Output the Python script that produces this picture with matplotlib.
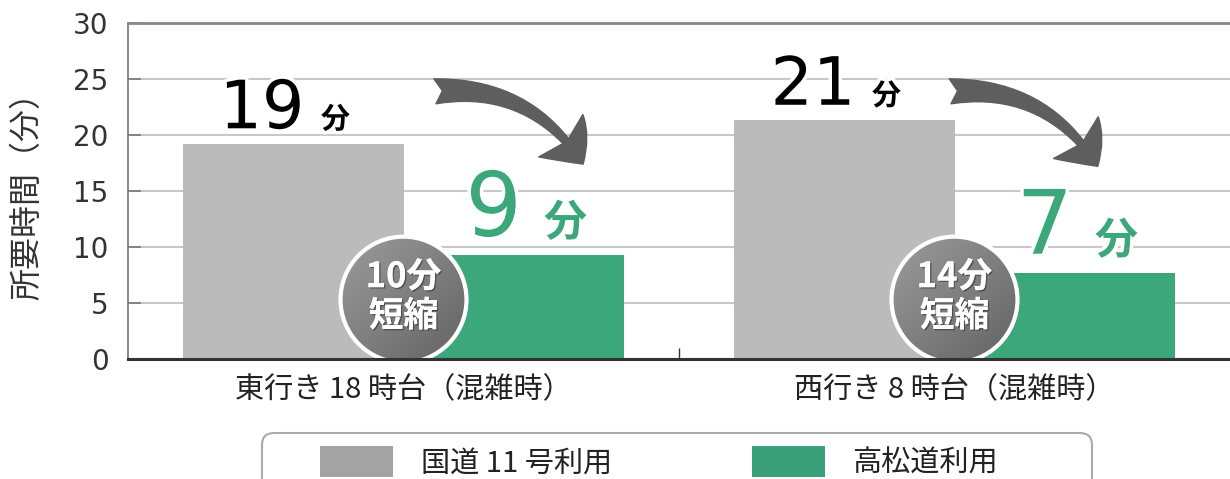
import numpy as np
import matplotlib
matplotlib.use("Agg")
import matplotlib.pyplot as plt
import matplotlib.patheffects as pe
import matplotlib.transforms as mtransforms
from matplotlib.colors import LinearSegmentedColormap
from matplotlib.patches import Ellipse, FancyArrowPatch, FancyBboxPatch

plt.rcParams['font.family'] = ['Noto Sans CJK JP', 'DejaVu Sans']

# data
routes = ["東行き 18 時台（混雑時）", "西行き 8 時台（混雑時）"]
series = ["国道 11 号利用", "高松道利用"]
kokudo = [19.2, 21.3]
takamatsu = [9.3, 7.7]
kokudo_txt = ["19", "21"]
takamatsu_txt = ["9", "7"]
saved_txt = ["10分\n短縮", "14分\n短縮"]
yticks = [0, 5, 10, 15, 20, 25, 30]

gray = "#bbbbbb"
green = "#3ca77b"

W, H = 1230, 479
fig = plt.figure(figsize=(W / 100, H / 100), dpi=100)
ax = fig.add_axes([128 / W, 120 / H, 1102 / W, 336 / H])

x = np.arange(len(routes))
w = 0.4
b1 = ax.bar(x - w / 2, kokudo, w, color=gray, zorder=2, label=series[0])
b2 = ax.bar(x + w / 2, takamatsu, w, color=green, zorder=2, label=series[1])

ax.set_xlim(-0.5, 1.5)
ax.set_ylim(0, 30)
ax.set_yticks(yticks)
ax.yaxis.grid(True, color="#c8c8c8", lw=1.5)
ax.set_axisbelow(True)
ax.tick_params(axis="y", direction="in", length=9, width=1.2, color="#777777",
               labelsize=20, pad=14, labelcolor="#333333")
for t in ax.get_yticklabels():
    t.set_family("DejaVu Sans")
ax.set_xticks(x, routes)
ax.tick_params(axis="x", length=0, labelsize=21, pad=12, labelcolor="#222222")
ax.set_xticks([0.5], minor=True)
ax.tick_params(axis="x", which="minor", direction="in", length=8, width=1, color="#333333")

ax.set_ylabel("所要時間（分）", fontsize=23, color="#333333")
ax.yaxis.set_label_coords(-0.077, 0.51)

for s in ax.spines.values():
    s.set_zorder(10)
ax.spines["right"].set_visible(False)
ax.spines["top"].set_color("#888888")
ax.spines["top"].set_linewidth(2)
ax.spines["left"].set_color("#777777")
ax.spines["left"].set_linewidth(1.2)
ax.spines["bottom"].set_color("#333333")
ax.spines["bottom"].set_linewidth(2.2)

halo = [pe.withStroke(linewidth=5, foreground="white")]

# minute labels above bars
for i in range(len(x)):
    gx = x[i] - w / 2
    ax.text(gx + 0.02, kokudo[i] + 1.4, kokudo_txt[i], ha="right", va="baseline",
            fontsize=48, color="black", family="DejaVu Sans", zorder=6, path_effects=halo)
    ax.text(gx + 0.05, kokudo[i] + 1.4, "分", ha="left", va="baseline",
            fontsize=21, fontweight="bold", color="black", zorder=6, path_effects=halo)
    tx = x[i] + w / 2
    ax.text(tx + 0.015, takamatsu[i] + 1.7, takamatsu_txt[i], ha="right", va="baseline",
            fontsize=64, color=green, family="DejaVu Sans", zorder=6, path_effects=halo)
    ax.text(tx + 0.055, takamatsu[i] + 1.7, "分", ha="left", va="baseline",
            fontsize=31, fontweight="bold", color=green, zorder=6, path_effects=halo)

# curved arrows
arrow_from = [(0.057, 23.9), (0.992, 23.9)]
arrow_to = [(0.326, 17.4), (1.260, 17.2)]
for a, b in zip(arrow_from, arrow_to):
    arr = FancyArrowPatch(a, b, arrowstyle="fancy,head_length=26,head_width=44,tail_width=18",
                          connectionstyle="arc3,rad=-0.3", mutation_scale=1,
                          color="#5e5e5e", shrinkA=0, shrinkB=0, zorder=4)
    ax.add_patch(arr)

# "短縮" badges
cmap = LinearSegmentedColormap.from_list("badge", ["#626262", "#9c9c9c"])
ew, eh = 126 / 551, 126 / 11.2
grad = np.linspace(0, 1, 120)
g = np.add.outer(grad, 1 - grad)
for i in range(len(x)):
    cx, cy = x[i], 5.3
    circ = Ellipse((cx, cy), ew, eh, facecolor="none", edgecolor="white", lw=3, zorder=5)
    ax.add_patch(circ)
    im = ax.imshow(g, cmap=cmap, extent=[cx - ew / 2, cx + ew / 2, cy - eh / 2, cy + eh / 2],
                   origin="lower", aspect="auto", zorder=4, vmin=0, vmax=2)
    im.set_clip_path(circ)
    ax.text(cx, cy + 0.3, saved_txt[i], ha="center", va="center", fontsize=25,
            fontweight="bold", color="white", linespacing=1.15, zorder=6,
            path_effects=[pe.withSimplePatchShadow(offset=(1, -1), shadow_rgbFace="#333333", alpha=0.6),
                          pe.Normal()])
ax.set_xlim(-0.5, 1.5)
ax.set_ylim(0, 30)

# legend box (runs off the bottom edge)
box = FancyBboxPatch((262, -20), 830, 66, boxstyle="round,pad=0,rounding_size=12",
                     transform=mtransforms.IdentityTransform(), facecolor="white",
                     edgecolor="#aaaaaa", lw=1.5, zorder=0)
fig.patches.append(box)
leg = fig.legend(handles=[b1, b2], labels=series, loc="center left",
                 bbox_to_anchor=(320 / W, 17 / H), ncol=2, frameon=False,
                 fontsize=21, handlelength=2.5, handleheight=1.25,
                 handletextpad=0.95, columnspacing=4.8, borderpad=0, borderaxespad=0)
leg.legend_handles[0].set_facecolor("#a3a3a3")
leg.legend_handles[1].set_facecolor("#3aa07a")
for t in leg.get_texts():
    t.set_color("#222222")

fig.savefig("out.png", dpi=100)
